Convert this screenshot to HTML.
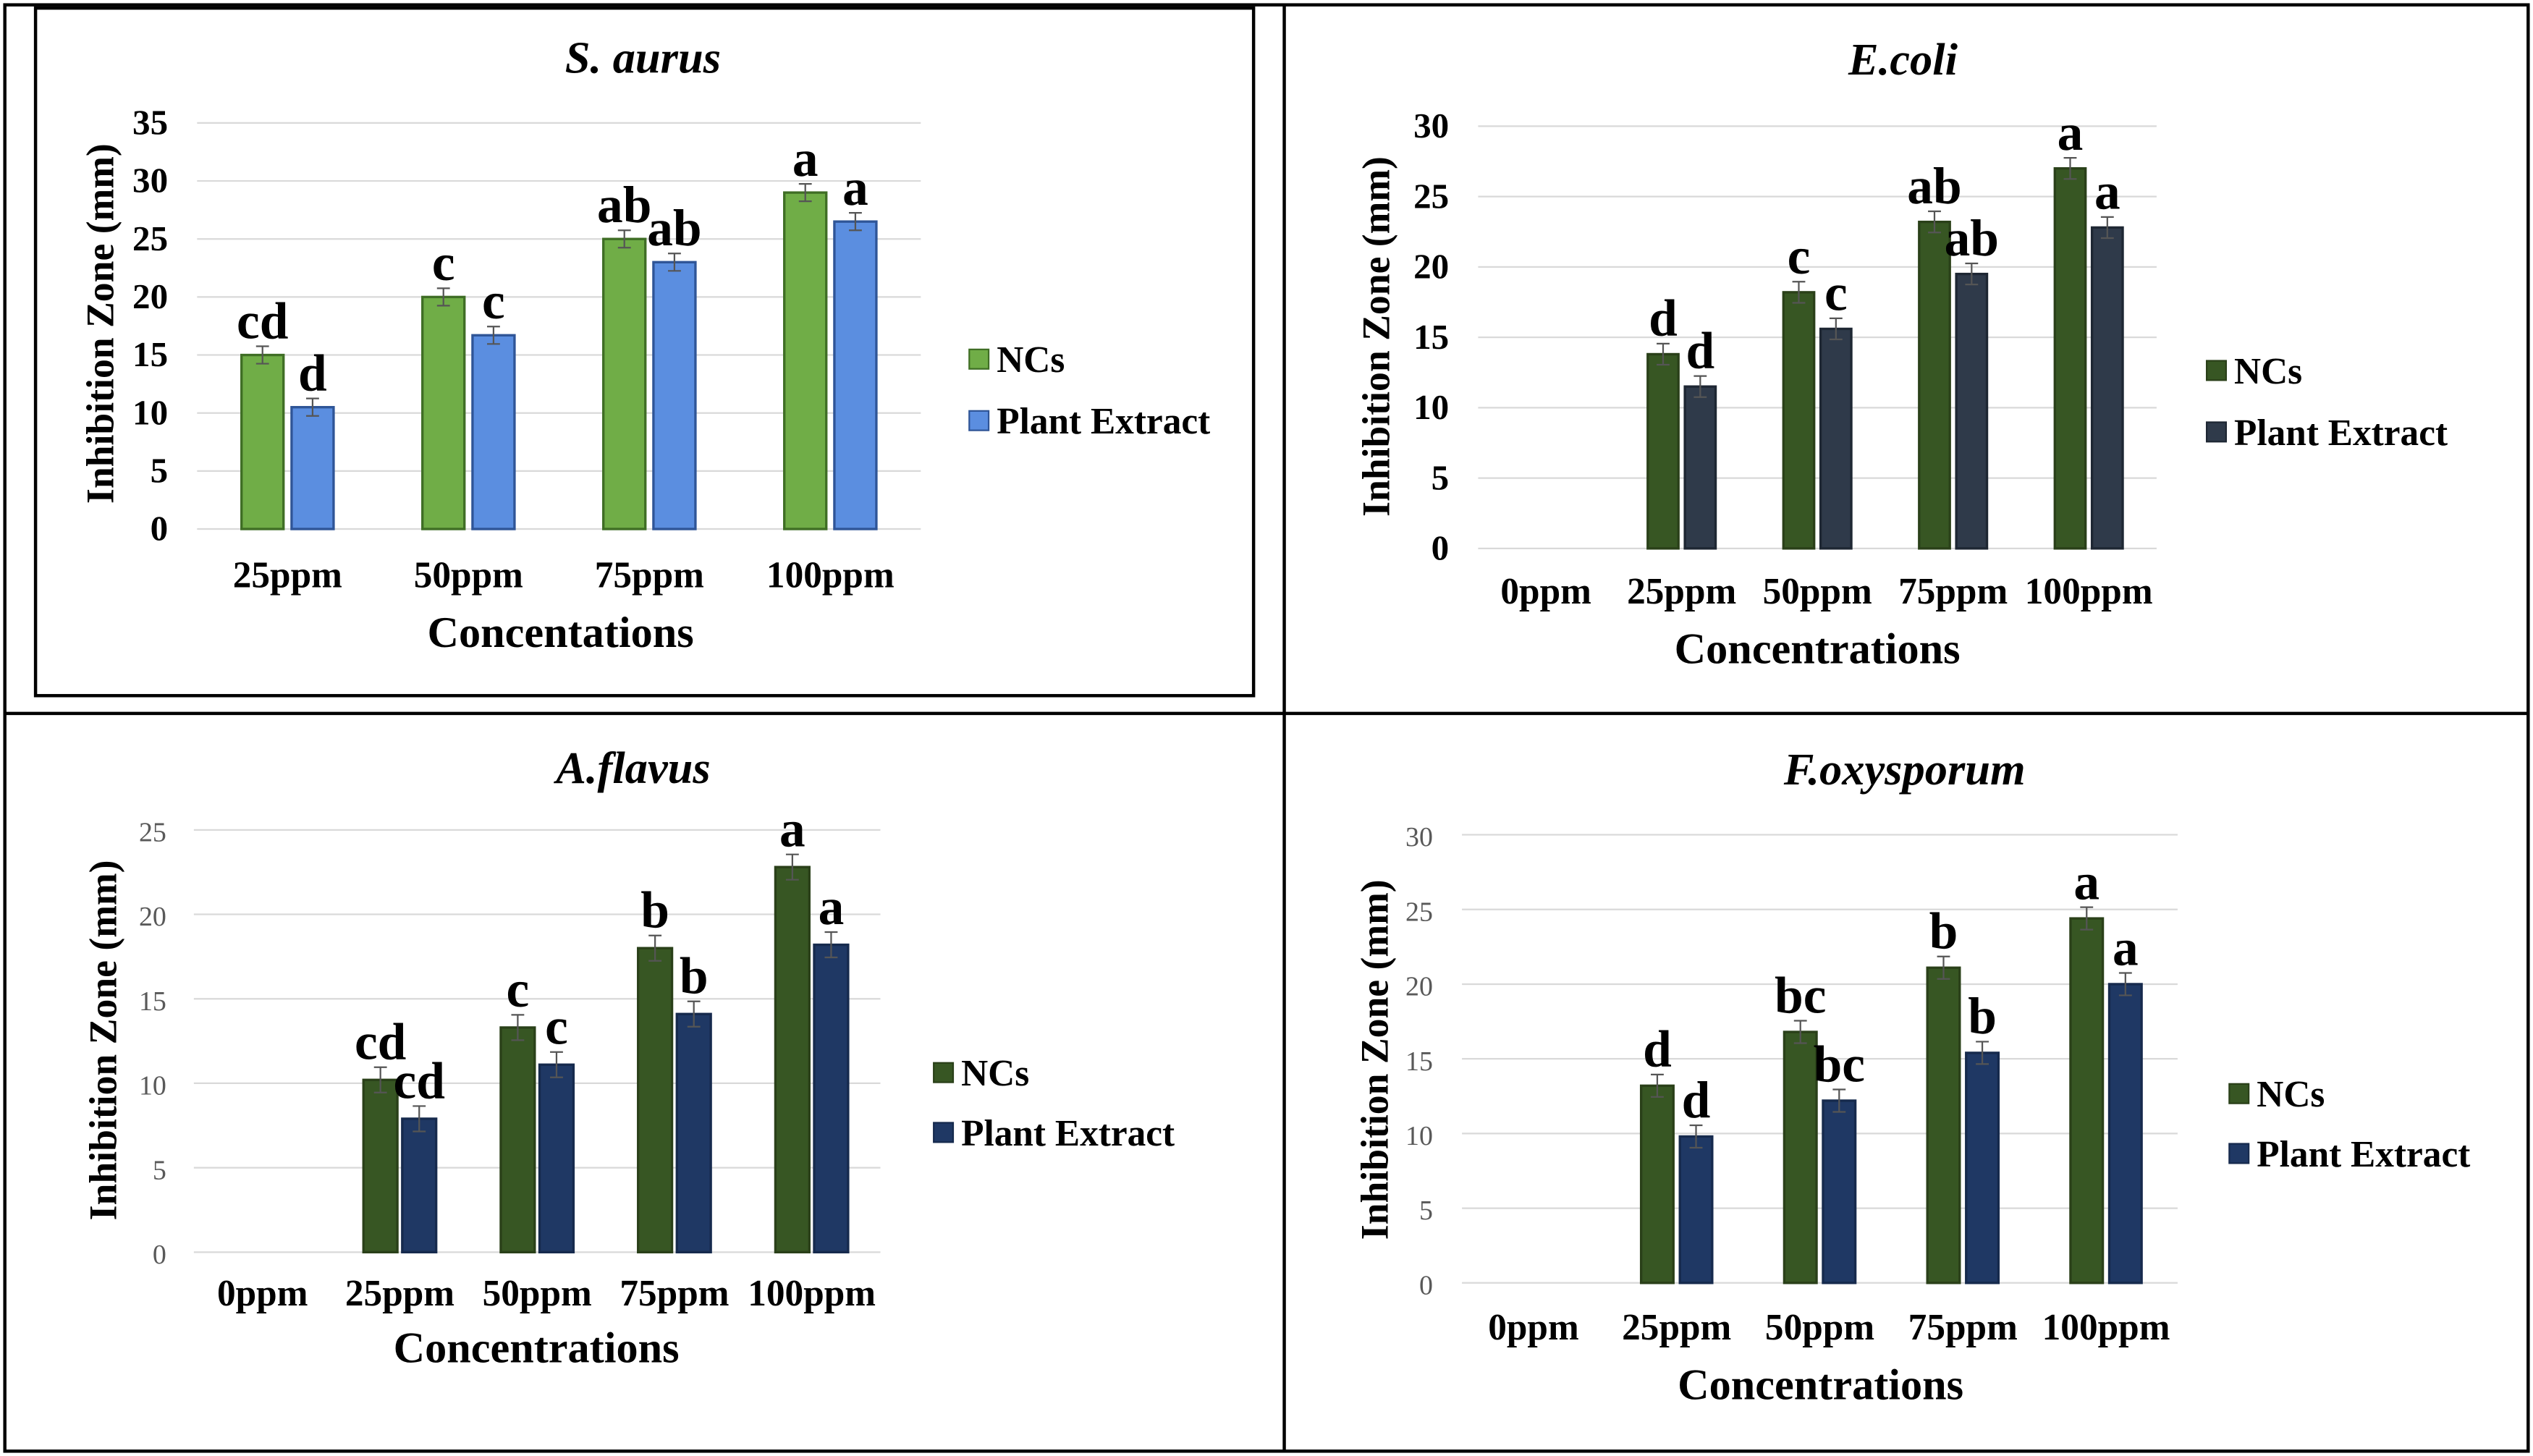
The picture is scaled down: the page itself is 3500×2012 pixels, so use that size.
<!DOCTYPE html>
<html><head><meta charset="utf-8">
<style>
html,body{margin:0;padding:0;background:#fff;}
svg{display:block;}
text{font-family:"Liberation Serif",serif;}
</style></head>
<body>
<svg id="fig" width="3500" height="2012" viewBox="0 0 1568 900" preserveAspectRatio="none" xmlns="http://www.w3.org/2000/svg">
<rect x="0" y="0" width="1568" height="900" fill="#fff"/>
<g stroke="#000" fill="none">
<rect x="3" y="3" width="1562" height="894" stroke-width="2"/>
<line x1="795" y1="3" x2="795" y2="897" stroke-width="2"/>
<line x1="3" y1="441" x2="1565" y2="441" stroke-width="2"/>
<rect x="22" y="5" width="754" height="425" stroke-width="2"/>
</g>
</svg>
<script>
const cats1=["25ppm","50ppm","75ppm","100ppm"];
const nc1=[15,20,25,29];
const pe1=[10.5,16.7,23,26.5];
const lbNc1=["cd","c","ab","a"];
const lbPe1=["d","c","ab","a"];
const ticks1=[0,5,10,15,20,25,30,35];

const cats2=["0ppm","25ppm","50ppm","75ppm","100ppm"];
const nc2=[0,13.8,18.2,23.2,27];
const pe2=[0,11.5,15.6,19.5,22.8];
const lbNc2=["","d","c","ab","a"];
const lbPe2=["","d","c","ab","a"];
const ticks2=[0,5,10,15,20,25,30];

const cats3=["0ppm","25ppm","50ppm","75ppm","100ppm"];
const nc3=[0,10.2,13.3,18,22.8];
const pe3=[0,7.9,11.1,14.1,18.2];
const lbNc3=["","cd","c","b","a"];
const lbPe3=["","cd","c","b","a"];
const ticks3=[0,5,10,15,20,25];

const cats4=["0ppm","25ppm","50ppm","75ppm","100ppm"];
const nc4=[0,13.2,16.8,21.1,24.4];
const pe4=[0,9.8,12.2,15.4,20];
const lbNc4=["","d","bc","b","a"];
const lbPe4=["","d","bc","b","a"];
const ticks4=[0,5,10,15,20,25,30];

const NS="http://www.w3.org/2000/svg";
const svg=document.getElementById('fig');
function mk(tag,attrs,parent){const e=document.createElementNS(NS,tag);for(const k in attrs)e.setAttribute(k,attrs[k]);(parent||svg).appendChild(e);return e;}
const ERR=0.75;

function chart(o,cats,nc,pe,lbN,lbP,ticks){
  const g=mk('g',{});
  
  
  const tmax=ticks[ticks.length-1];
  const y=v=>o.y0-(v/tmax)*(o.y0-o.yTop);
  const step=(o.gx1-o.gx0)/cats.length;
  const cx=i=>o.gx0+step*(i+0.5);
  ticks.forEach(t=>{
    const l=mk('line',{x1:o.gx0,x2:o.gx1,y1:y(t),y2:y(t),stroke:'#d9d9d9','stroke-width':1},g);
    
    
    const tx=mk('text',{x:o.tickX,y:y(t)+7,'text-anchor':'end','font-size':o.tickFs,'font-weight':o.tickBold?'bold':'normal',fill:o.tickColor},g);
    tx.textContent=t;
    
    
  });
  const bw=o.bw, gap=o.gap;
  cats.forEach((c,i)=>{
    const series=[[nc[i],lbN[i],cx(i)-gap/2-bw,o.c1,o.s1],[pe[i],lbP[i],cx(i)+gap/2,o.c2,o.s2]];
    series.forEach((s,j)=>{
      const [v,lb,x,fill,str]=s;
      if(v>0){
        const r=mk('rect',{x:x,y:y(v),width:bw,height:y(0)-y(v),fill:fill,stroke:str,'stroke-width':1.5},g);
        
        
        const xc=x+bw/2;
        const eb=mk('path',{d:`M${xc},${y(v+ERR)}V${y(v-ERR)}M${xc-4},${y(v+ERR)}H${xc+4}M${xc-4},${y(v-ERR)}H${xc+4}`,stroke:'#555','stroke-width':1,fill:'none'},g);
        
        
      }
      if(lb){
        const t=mk('text',{x:x+bw/2,y:y(v+ERR)-5,'text-anchor':'middle','font-size':32,'font-weight':'bold',fill:'#000'},g);
        t.textContent=lb;
        
        
      }
    });
    const ct=mk('text',{x:cx(i),y:o.catY,'text-anchor':'middle','font-size':23,'font-weight':'bold',fill:'#000'},g);
    ct.textContent=c;
    
    
  });
  const ti=mk('text',{x:o.titleX,y:o.titleY,'text-anchor':'middle','font-size':28,'font-weight':'bold','font-style':'italic',fill:'#000'},g);
  ti.textContent=o.title;
  
  
  const xt=mk('text',{x:o.xtX,y:o.xtY,'text-anchor':'middle','font-size':27,'font-weight':'bold',fill:'#000'},g);
  xt.textContent=o.xTitle;
  
  
  const yt=mk('text',{x:0,y:0,'text-anchor':'middle','font-size':24,'font-weight':'bold',fill:'#000',transform:`translate(${o.ytX},${o.ytY}) rotate(-90)`},g);
  yt.textContent='Inhibition Zone (mm)';
  
  
  [['NCs',o.c1,o.s1,o.lgY1],['Plant Extract',o.c2,o.s2,o.lgY2]].forEach(L=>{
    const sw=mk('rect',{x:o.lgX,y:L[3]-6,width:12,height:12,fill:L[1],stroke:L[2]},g);
    
    
    const lt=mk('text',{x:o.lgX+17,y:L[3]+8,'font-size':23,'font-weight':'bold',fill:'#000'},g);
    lt.textContent=L[0];
    
    
  });
}

chart({name:'chart-s-aurus',y0:327,yTop:76,gx0:122,gx1:570,tickX:104,tickFs:22,tickBold:true,tickColor:'#000',bw:26,gap:5,
  c1:'#70ad47',s1:'#3f6e25',c2:'#5b8ee0',s2:'#2f5597',catY:363,title:'S. aurus',titleX:398,titleY:45,xTitle:'Concentations',xtX:347,xtY:400,
  ytX:70,ytY:200,lgX:600,lgY1:222,lgY2:260},cats1,nc1,pe1,lbNc1,lbPe1,ticks1);
chart({name:'chart-e-coli',y0:339,yTop:78,gx0:915,gx1:1335,tickX:897,tickFs:22,tickBold:true,tickColor:'#000',bw:19,gap:4,
  c1:'#375623',s1:'#2a4019',c2:'#2f3a4a',s2:'#1e2733',catY:373,title:'E.coli',titleX:1178,titleY:46,xTitle:'Concentrations',xtX:1125,xtY:410,
  ytX:860,ytY:208,lgX:1366,lgY1:229,lgY2:267},cats2,nc2,pe2,lbNc2,lbPe2,ticks2);
chart({name:'chart-a-flavus',y0:774,yTop:513,gx0:120,gx1:545,tickX:103,tickFs:17,tickBold:false,tickColor:'#595959',bw:21,gap:3,
  c1:'#375623',s1:'#2a4019',c2:'#1f3864',s2:'#162a4d',catY:807,title:'A.flavus',titleX:392,titleY:484,xTitle:'Concentrations',xtX:332,xtY:842,
  ytX:72,ytY:643,lgX:578,lgY1:663,lgY2:700},cats3,nc3,pe3,lbNc3,lbPe3,ticks3);
chart({name:'chart-f-oxysporum',y0:793,yTop:516,gx0:905,gx1:1348,tickX:887,tickFs:17,tickBold:false,tickColor:'#595959',bw:20,gap:4,
  c1:'#375623',s1:'#2a4019',c2:'#1f3864',s2:'#162a4d',catY:828,title:'F.oxysporum',titleX:1179,titleY:485,xTitle:'Concentrations',xtX:1127,xtY:865,
  ytX:859,ytY:655,lgX:1380,lgY1:676,lgY2:713},cats4,nc4,pe4,lbNc4,lbPe4,ticks4);
</script>
</body></html>
